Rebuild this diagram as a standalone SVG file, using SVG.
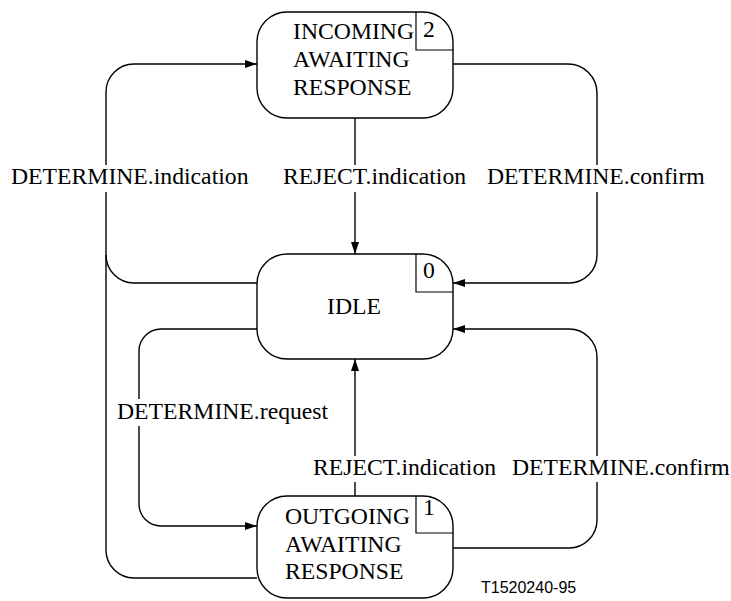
<svg xmlns="http://www.w3.org/2000/svg" width="731" height="601" viewBox="0 0 731 601">
<defs>
<marker id="arr" markerWidth="12" markerHeight="8" refX="12" refY="4" orient="auto" markerUnits="userSpaceOnUse">
<path d="M0,0 L12,4 L0,8 z" fill="#000"/>
</marker>
<style>
.node{fill:#fff;stroke:#000;stroke-width:1.4}
.box{fill:none;stroke:#000;stroke-width:1.2}
.conn{fill:none;stroke:#000;stroke-width:1.4}
.t{font-family:"Liberation Serif","Times New Roman",serif;font-size:23.7px;fill:#000}
.bg{fill:#fff}
.id{font-family:"Liberation Sans",Arial,sans-serif;font-size:16px;fill:#000}
</style>
</defs>
<rect width="731" height="601" fill="#fff"/>
<g id="connectors">
<path class="conn" d="M257,283 H134 A28,28 0 0 1 106,255 V92 A28,28 0 0 1 134,64 H257" marker-end="url(#arr)"/>
<path class="conn" d="M257,578 H134 A28,28 0 0 1 106,550 V255"/>
<path class="conn" d="M257,329 H161 A22,22 0 0 0 139,351 V504 A22,22 0 0 0 161,526 H257" marker-end="url(#arr)"/>
<path class="conn" d="M453,64 H568 A29,29 0 0 1 597,93 V255 A28,28 0 0 1 569,283 H453" marker-end="url(#arr)"/>
<path class="conn" d="M453,548 H569 A28,28 0 0 0 597,520 V357 A28,28 0 0 0 569,329 H453" marker-end="url(#arr)"/>
<path class="conn" d="M355,118 V254" marker-end="url(#arr)"/>
<path class="conn" d="M355,496 V359" marker-end="url(#arr)"/>
</g>
<g id="labels">
<rect class="bg" x="9" y="165" width="243" height="27"/>
<text class="t" x="11" y="184">DETERMINE.indication</text>
<rect class="bg" x="281" y="165" width="188" height="27"/>
<text class="t" x="283" y="184">REJECT.indication</text>
<rect class="bg" x="485" y="165" width="222" height="27"/>
<text class="t" x="487" y="184">DETERMINE.confirm</text>
<rect class="bg" x="115" y="399" width="217" height="27"/>
<text class="t" x="117" y="419">DETERMINE.request</text>
<rect class="bg" x="311" y="456" width="188" height="26"/>
<text class="t" x="313" y="475">REJECT.indication</text>
<rect class="bg" x="510" y="456" width="221" height="26"/>
<text class="t" x="512" y="475">DETERMINE.confirm</text>
</g>
<g id="incoming">
<rect class="node" x="257" y="12" width="196" height="106" rx="30" ry="30"/>
<path class="box" d="M416,12 V50 H453"/>
<text class="t" x="423" y="37">2</text>
<text class="t" x="293" y="39">INCOMING</text>
<text class="t" x="293" y="67">AWAITING</text>
<text class="t" x="293" y="95">RESPONSE</text>
</g>
<g id="idle">
<rect class="node" x="257" y="254" width="196" height="105" rx="30" ry="30"/>
<path class="box" d="M416,254 V292 H453"/>
<text class="t" x="423" y="278">0</text>
<text class="t" x="327" y="314">IDLE</text>
</g>
<g id="outgoing">
<rect class="node" x="257" y="496" width="196" height="102" rx="30" ry="30"/>
<path class="box" d="M416,496 V533 H453"/>
<text class="t" x="423" y="515">1</text>
<text class="t" x="285" y="524">OUTGOING</text>
<text class="t" x="285" y="552">AWAITING</text>
<text class="t" x="285" y="579">RESPONSE</text>
</g>
<text class="id" x="481" y="593">T1520240-95</text>
</svg>
